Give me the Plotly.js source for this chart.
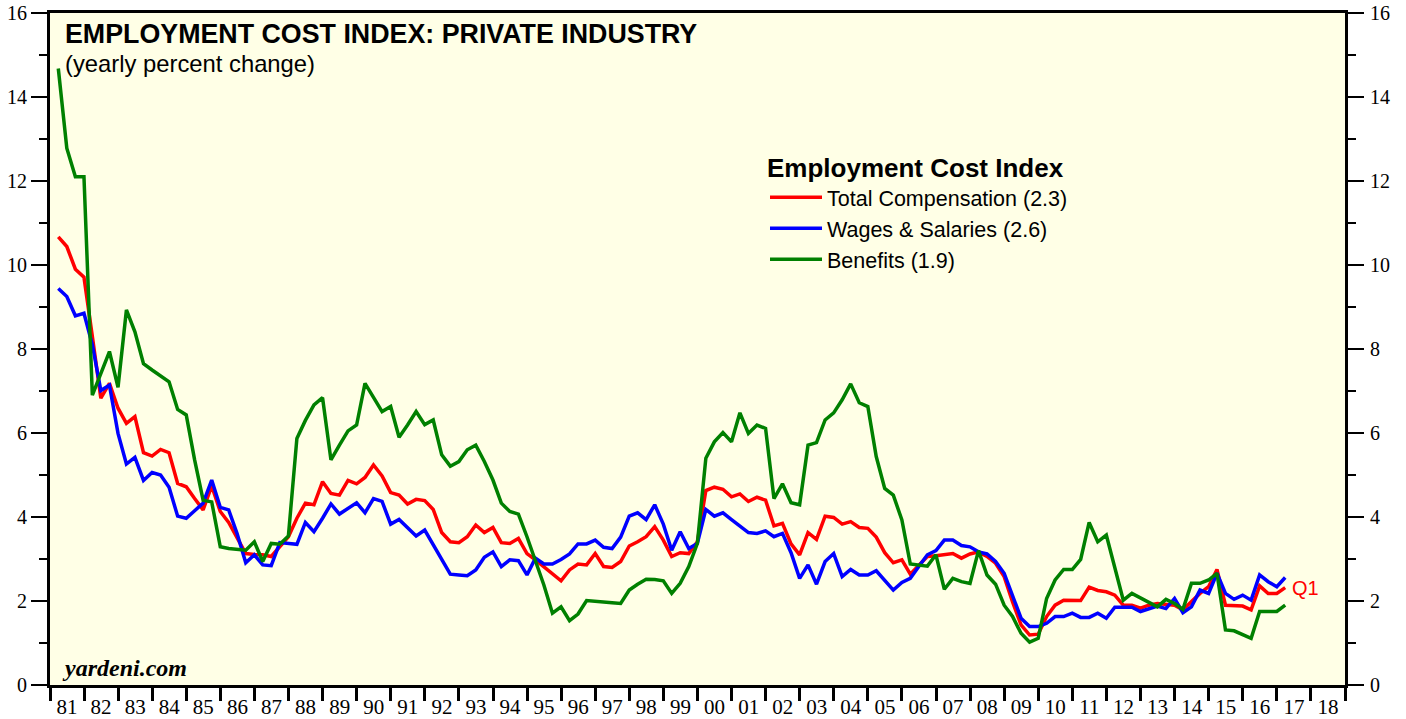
<!DOCTYPE html>
<html><head><meta charset="utf-8">
<script src="https://cdn.plot.ly/plotly-3.0.1.min.js"></script>
<style>html,body{margin:0;padding:0;background:#fff;} #chart{width:1406px;height:719px;}</style>
</head><body><div id="chart"></div>
<script>
// Quarterly data, 1981 Q1 .. 2017 Q1 (yearly percent change)
const startYear = 1981;
const quarterEnds = ['03-31', '06-30', '09-30', '12-31'];

const totalCompensation = [
  10.67, 10.44, 9.90, 9.71, 8.30, 6.83, 7.18, 6.59, 6.23, 6.39, 5.53, 5.45, 5.61, 5.53, 4.80, 4.72,
  4.44, 4.17, 4.74, 4.13, 3.87, 3.50, 3.13, 3.11, 3.10, 3.06, 3.29, 3.53, 3.97, 4.33, 4.29, 4.84,
  4.56, 4.52, 4.87, 4.79, 4.94, 5.24, 4.98, 4.58, 4.52, 4.31, 4.42, 4.39, 4.18, 3.63, 3.41, 3.39,
  3.53, 3.81, 3.63, 3.75, 3.39, 3.37, 3.49, 3.13, 2.98, 2.82, 2.64, 2.48, 2.74, 2.88, 2.86, 3.13,
  2.82, 2.80, 2.94, 3.31, 3.41, 3.53, 3.77, 3.45, 3.06, 3.15, 3.13, 3.41, 4.63, 4.71, 4.66, 4.48,
  4.55, 4.37, 4.47, 4.40, 3.79, 3.85, 3.36, 3.10, 3.63, 3.47, 4.02, 3.99, 3.83, 3.89, 3.75, 3.73,
  3.52, 3.15, 2.91, 2.98, 2.64, 2.86, 3.06, 3.08, 3.10, 3.13, 3.02, 3.12, 3.17, 3.06, 2.90, 2.58,
  1.98, 1.43, 1.19, 1.21, 1.63, 1.90, 2.02, 2.02, 2.01, 2.33, 2.25, 2.22, 2.14, 1.90, 1.90, 1.83,
  1.90, 1.94, 1.92, 1.90, 1.79, 1.98, 2.18, 2.34, 2.75, 1.90, 1.88, 1.88, 1.79, 2.36, 2.18, 2.18,
  2.32
];
const wagesSalaries = [
  9.44, 9.25, 8.79, 8.85, 8.10, 7.01, 7.14, 5.99, 5.26, 5.42, 4.87, 5.06, 5.00, 4.71, 4.02, 3.97,
  4.15, 4.33, 4.88, 4.23, 4.17, 3.60, 2.91, 3.10, 2.86, 2.84, 3.39, 3.37, 3.35, 3.87, 3.65, 3.97,
  4.31, 4.07, 4.21, 4.34, 4.10, 4.44, 4.37, 3.83, 3.94, 3.75, 3.55, 3.69, 3.33, 2.98, 2.64, 2.62,
  2.60, 2.74, 3.04, 3.17, 2.82, 2.98, 2.96, 2.62, 3.02, 2.88, 2.88, 2.99, 3.12, 3.36, 3.36, 3.45,
  3.28, 3.25, 3.52, 4.02, 4.10, 3.94, 4.29, 3.83, 3.21, 3.65, 3.25, 3.37, 4.18, 4.02, 4.10, 3.94,
  3.79, 3.63, 3.61, 3.67, 3.53, 3.61, 3.15, 2.54, 2.86, 2.40, 2.94, 3.13, 2.58, 2.75, 2.62, 2.62,
  2.72, 2.50, 2.26, 2.44, 2.54, 2.82, 3.10, 3.20, 3.45, 3.45, 3.32, 3.29, 3.17, 3.12, 2.94, 2.66,
  2.10, 1.59, 1.39, 1.39, 1.47, 1.63, 1.63, 1.71, 1.61, 1.61, 1.71, 1.59, 1.85, 1.85, 1.85, 1.75,
  1.82, 1.88, 1.82, 2.06, 1.72, 1.86, 2.26, 2.18, 2.66, 2.18, 2.04, 2.14, 2.02, 2.62, 2.46, 2.34,
  2.56
];
const benefits = [
  14.68, 12.78, 12.10, 12.10, 6.90, 7.42, 7.94, 7.09, 8.93, 8.41, 7.65, 7.50, 7.36, 7.22, 6.56, 6.43,
  5.36, 4.40, 4.36, 3.29, 3.25, 3.23, 3.21, 3.41, 2.94, 3.37, 3.35, 3.55, 5.87, 6.30, 6.67, 6.84,
  5.36, 5.71, 6.05, 6.19, 7.18, 6.85, 6.51, 6.63, 5.90, 6.19, 6.51, 6.20, 6.31, 5.48, 5.21, 5.32,
  5.60, 5.71, 5.32, 4.88, 4.33, 4.13, 4.07, 3.53, 2.98, 2.38, 1.71, 1.86, 1.53, 1.69, 2.01, 2.00,
  1.98, 1.96, 1.94, 2.26, 2.40, 2.52, 2.51, 2.48, 2.18, 2.42, 2.82, 3.37, 5.40, 5.79, 6.01, 5.79,
  6.48, 5.99, 6.19, 6.11, 4.44, 4.79, 4.34, 4.29, 5.71, 5.77, 6.31, 6.48, 6.79, 7.17, 6.72, 6.63,
  5.44, 4.68, 4.52, 3.93, 2.88, 2.85, 2.83, 3.10, 2.28, 2.54, 2.46, 2.42, 3.20, 2.62, 2.40, 1.90,
  1.63, 1.23, 1.02, 1.11, 2.06, 2.50, 2.75, 2.75, 2.99, 3.87, 3.41, 3.57, 2.82, 2.02, 2.18, 2.08,
  1.98, 1.86, 2.04, 1.94, 1.80, 2.42, 2.42, 2.50, 2.66, 1.31, 1.29, 1.21, 1.11, 1.75, 1.75, 1.75,
  1.90
];
const seriesNames = ['Total Compensation (2.3)', 'Wages & Salaries (2.6)', 'Benefits (1.9)'];
const seriesColors = ['#ff0000', '#0000ff', '#008000'];
const latestLabel = 'Q1';
const yTicks = [0, 2, 4, 6, 8, 10, 12, 14, 16];

const quarterDates = totalCompensation.map((_, i) =>
  (startYear + Math.floor(i / 4)) + '-' + quarterEnds[i % 4]);

const allSeries = [totalCompensation, wagesSalaries, benefits];
const traces = allSeries.map((vals, k) => ({
  type: 'scatter', mode: 'lines', x: quarterDates, y: vals,
  name: seriesNames[k], line: {color: seriesColors[k], width: 3.5},
  hoverinfo: 'skip'
}));
// invisible trace to anchor right axis
traces.push({type: 'scatter', mode: 'lines', x: [quarterDates[0]], y: [0], yaxis: 'y2',
  showlegend: false, hoverinfo: 'skip', line: {color: 'rgba(0,0,0,0)'}});

const serif = '"Liberation Serif", "Times New Roman", serif';
const sans = '"Liberation Sans", Arial, sans-serif';

const yCommon = {
  range: [0, 16], tickvals: yTicks, ticktext: yTicks.map(String),
  ticks: 'outside', ticklen: 16, tickwidth: 2, tickcolor: '#000',
  minor: {dtick: 1, ticks: 'outside', ticklen: 8, tickwidth: 2, tickcolor: '#000', showgrid: false},
  showgrid: false, zeroline: false, fixedrange: true,
  tickfont: {family: serif, size: 20, color: '#000'},
  showline: true, linewidth: 3, linecolor: '#000'
};

const layout = {
  width: 1406, height: 719,
  margin: {l: 50, r: 61, t: 13, b: 34},
  paper_bgcolor: '#ffffff', plot_bgcolor: '#ffffe6',
  showlegend: true,
  legend: {
    x: (765 - 50) / 1295, y: (685 - 143) / 672, xanchor: 'left', yanchor: 'top',
    bgcolor: 'rgba(0,0,0,0)', borderwidth: 0, itemwidth: 52,
    font: {family: sans, size: 21.5, color: '#000'},
    title: {text: '<b>Employment Cost Index</b>', font: {family: sans, size: 26, color: '#000'}},
    tracegroupgap: 0
  },
  xaxis: {
    type: 'date', range: ['1981-01-01', '2019-01-01'],
    tick0: '1981-01-01', dtick: 'M12', tickformat: '%y', ticklabelmode: 'period',
    ticks: 'outside', ticklen: 13, tickwidth: 3, tickcolor: '#000', ticklabelstandoff: -12,
    tickfont: {family: serif, size: 21, color: '#000'},
    showgrid: false, zeroline: false, fixedrange: true,
    showline: true, linewidth: 3, linecolor: '#000', mirror: true
  },
  yaxis: Object.assign({}, yCommon, {side: 'left', mirror: true}),
  yaxis2: Object.assign({}, yCommon, {side: 'right', overlaying: 'y', ticklabelstandoff: 2}),
  annotations: [
    {xref: 'paper', yref: 'paper', x: 13 / 1295, y: 1 - 4 / 672, xanchor: 'left', yanchor: 'top',
     text: '<b>EMPLOYMENT COST INDEX: PRIVATE INDUSTRY</b>', showarrow: false,
     font: {family: sans, size: 26.8, color: '#000'}},
    {xref: 'paper', yref: 'paper', x: 13 / 1295, y: 1 - 35 / 672, xanchor: 'left', yanchor: 'top',
     text: '(yearly percent change)', showarrow: false,
     font: {family: sans, size: 23.8, color: '#000'}},
    {xref: 'paper', yref: 'paper', x: 10 / 1295, y: 2 / 672, xanchor: 'left', yanchor: 'bottom',
     text: '<b><i>yardeni.com</i></b>', showarrow: false,
     font: {family: serif, size: 24, color: '#000'}},
    {x: quarterDates[quarterDates.length - 1], y: totalCompensation[totalCompensation.length - 1],
     xref: 'x', yref: 'y', xanchor: 'left', yanchor: 'middle', xshift: 5,
     text: latestLabel, showarrow: false, font: {family: sans, size: 20, color: '#ff0000'}}
  ]
};

Plotly.newPlot('chart', traces, layout, {displayModeBar: false, staticPlot: true});
</script>
</body></html>
